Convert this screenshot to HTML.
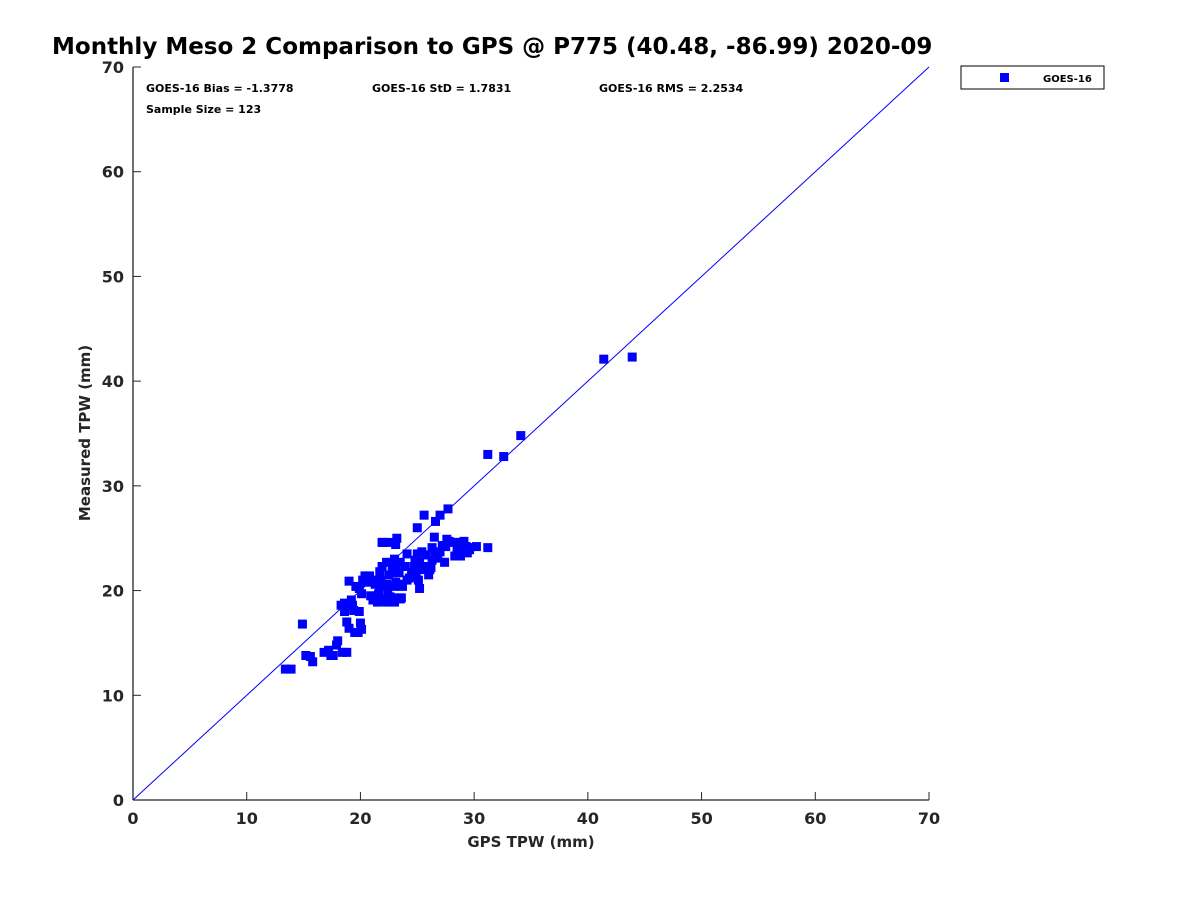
<!DOCTYPE html>
<html><head><meta charset="utf-8"><style>
body{margin:0;background:#fff;}
svg text{font-family:"DejaVu Sans","Liberation Sans",sans-serif;font-weight:bold;fill:#262626;}
</style></head><body>
<svg width="1200" height="900" viewBox="0 0 1200 900">
<text x="52" y="54" font-size="23" style="fill:#000">Monthly Meso 2 Comparison to GPS @ P775 (40.48, -86.99) 2020-09</text>
<g id="axes"></g>
<g id="marks"></g>
<text x="146" y="92" font-size="11" style="fill:#000">GOES-16 Bias = -1.3778</text>
<text x="372" y="92" font-size="11" style="fill:#000">GOES-16 StD = 1.7831</text>
<text x="599" y="92" font-size="11" style="fill:#000">GOES-16 RMS = 2.2534</text>
<text x="146" y="113" font-size="11" style="fill:#000">Sample Size = 123</text>
<text x="531" y="847" font-size="15" text-anchor="middle">GPS TPW (mm)</text>
<text transform="translate(90,433) rotate(-90)" font-size="15" text-anchor="middle">Measured TPW (mm)</text>
<g>
<rect x="961" y="66" width="143" height="23" fill="#fff" stroke="#000" stroke-width="1"/>
<rect x="1000" y="73" width="9" height="9" fill="#0000ff"/>
<text x="1043" y="82" font-size="10" style="fill:#000">GOES-16</text>
</g>
</svg>
<script>
const xTicks=[0,10,20,30,40,50,60,70];
const yTicks=[0,10,20,30,40,50,60,70];
const gpsTPW=[13.4,13.9,14.9,15.2,15.6,15.8,16.8,17.2,17.4,17.6,17.9,18.0,18.4,18.8,18.6,18.3,18.6,18.6,18.8,19.0,19.2,19.0,19.3,19.4,19.5,19.8,20.1,20.0,19.9,19.9,19.6,20.1,20.2,20.4,20.6,20.8,20.9,21.1,21.3,21.5,21.5,21.6,21.7,21.8,21.7,21.5,21.9,22.0,22.2,22.3,22.4,22.6,22.8,23.0,23.1,23.4,22.8,23.0,23.1,23.0,23.0,23.4,23.1,21.9,22.5,23.1,22.3,22.5,22.4,22.3,23.5,23.3,23.7,24.1,24.3,24.5,24.7,24.9,23.7,23.9,24.1,24.5,24.8,25.0,25.2,25.4,25.6,25.8,26.0,26.1,26.3,26.3,26.5,26.6,26.8,27.0,27.2,27.4,27.5,27.6,27.8,28.1,28.3,28.5,28.8,28.7,28.9,29.1,29.3,29.4,29.6,25.4,26.2,23.6,25.2,25.1,23.5,23.2,25.6,27.0,27.7,26.6,25.0,28.8,29.6,30.2,31.2,31.2,32.6,34.1,41.4,43.9];
const measTPW=[12.5,12.5,16.8,13.8,13.7,13.2,14.1,14.3,13.8,13.8,14.8,15.2,14.1,14.1,18.8,18.6,18.3,18.0,17.0,16.4,19.1,20.9,18.6,18.1,16.0,16.0,16.3,16.9,18.0,20.2,20.4,19.7,21.0,21.4,20.8,21.4,19.5,19.1,20.6,19.5,18.9,19.7,20.4,21.0,21.8,21.0,22.3,24.6,19.1,20.6,19.2,19.4,21.7,19.3,24.4,21.7,22.4,20.4,22.5,23.0,18.9,19.3,20.8,24.6,24.6,22.3,22.7,21.5,19.9,18.9,19.2,20.6,20.6,21.0,21.2,21.4,22.3,21.5,20.4,22.3,23.5,21.7,22.9,23.5,22.7,23.7,22.3,23.4,21.5,22.0,22.9,24.1,25.1,23.4,23.1,23.7,24.3,22.7,24.2,24.9,24.7,24.6,23.3,24.1,23.3,24.6,24.2,24.7,24.2,23.6,23.9,22.0,22.2,19.3,20.2,21.0,22.7,25.0,27.2,27.2,27.8,26.6,26.0,23.4,24.1,24.2,24.1,33.0,32.8,34.8,42.1,42.3];
const X=v=>133+v*(929-133)/70, Y=v=>800-v*(800-67)/70;
const NS='http://www.w3.org/2000/svg';
const ax=document.getElementById('axes'), mk=document.getElementById('marks');
function mkEl(t,a,p){const e=document.createElementNS(NS,t);for(const k in a)e.setAttribute(k,a[k]);p.appendChild(e);return e;}
let e=mkEl('line',{x1:133,y1:800,x2:929,y2:800,stroke:'#262626','stroke-width':1.3},ax);


e=mkEl('line',{x1:133,y1:800,x2:133,y2:67,stroke:'#262626','stroke-width':1.3},ax);


xTicks.forEach(t=>{
 let l=mkEl('line',{x1:X(t),y1:800,x2:X(t),y2:792,stroke:'#262626'},ax);
 
 
 let s=mkEl('text',{x:X(t),y:824,'font-size':16,'text-anchor':'middle'},ax);s.textContent=t;
 
 
});
yTicks.forEach(t=>{
 let l=mkEl('line',{x1:133,y1:Y(t),x2:141,y2:Y(t),stroke:'#262626'},ax);
 
 
 let s=mkEl('text',{x:124,y:Y(t)+6,'font-size':16,'text-anchor':'end'},ax);s.textContent=t;
 
 
});
e=mkEl('line',{x1:X(0),y1:Y(0),x2:X(70),y2:Y(70),stroke:'#0000ff','stroke-width':1},mk);


gpsTPW.forEach((g,i)=>{
 const r=mkEl('rect',{x:X(g)-4.5,y:Y(measTPW[i])-4.5,width:9,height:9,fill:'#0000ff'},mk);
 
 
});
</script>
</body></html>
